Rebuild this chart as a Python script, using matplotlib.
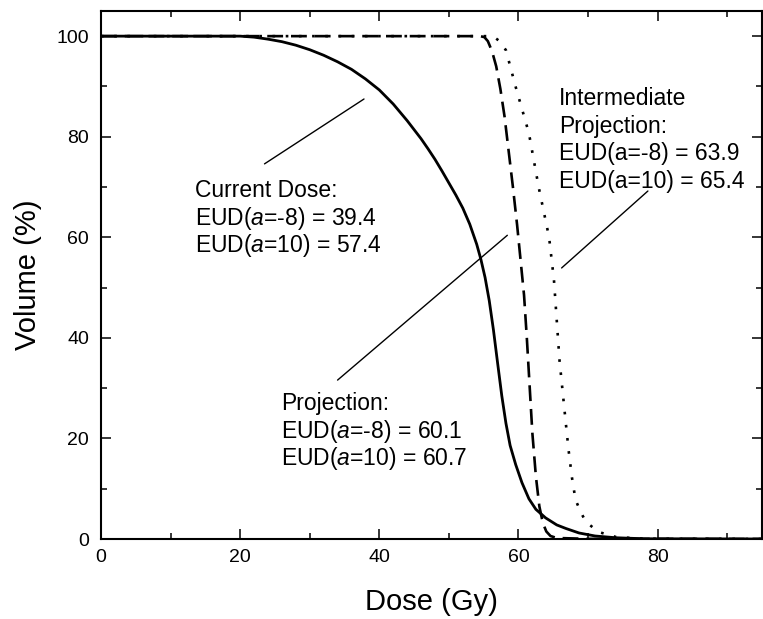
import matplotlib
matplotlib.use("Agg")
import matplotlib.pyplot as plt
from matplotlib.ticker import MultipleLocator

plt.rcParams['font.family'] = ['Liberation Sans', 'DejaVu Sans']
plt.rcParams['mathtext.fontset'] = 'custom'
plt.rcParams['mathtext.rm'] = 'Liberation Sans'
plt.rcParams['mathtext.it'] = 'Liberation Sans:italic'

# Current dose (solid)
dose_cur = [0, 20, 22, 24, 26, 28, 30, 32, 34, 36, 38, 40, 42, 44, 46, 47, 48, 49, 50,
            51, 52, 53, 54, 54.6, 55.2, 55.8, 56.4, 57.0, 57.6, 58.2, 58.8, 59.6, 60.5,
            61.5, 62.5, 63.9, 65.5, 66.8, 68.7, 71, 74, 78, 95]
vol_cur = [100, 100, 99.8, 99.4, 98.9, 98.2, 97.3, 96.2, 94.9, 93.4, 91.5, 89.3, 86.5,
           83.2, 79.6, 77.6, 75.5, 73.2, 70.8, 68.4, 65.8, 62.6, 58.6, 55.6, 52.0, 47.4,
           41.6, 35.0, 28.5, 23.0, 18.6, 14.8, 11.2, 8.0, 5.9, 4.2, 2.8, 2.1, 1.2, 0.6,
           0.25, 0.05, 0]

# Projection (dashed)
dose_proj = [0, 54.5, 55.1, 55.6, 56.2, 56.8, 57.4, 58.0, 58.6, 59.2, 59.8, 60.3, 60.8,
             61.2, 61.6, 62.0, 62.5, 63.0, 63.5, 64.0, 64.6, 65.5, 70, 95]
vol_proj = [100, 100, 99.8, 99.0, 97.0, 94.0, 89.5, 84.0, 77.0, 70.0, 62.5, 55.5, 48.5,
            40.0, 30.5, 21.0, 12.5, 6.5, 3.2, 1.5, 0.6, 0.2, 0.03, 0]

# Intermediate projection (dotted)
dose_int = [0, 56, 56.5, 57.3, 58.2, 59.6, 61.5, 62.9, 64.4, 65.1, 65.5, 65.9, 66.4,
            66.8, 67.2, 67.7, 68.2, 69.0, 69.7, 71.5, 74, 78, 95]
vol_int = [100, 100, 99.8, 99.0, 97.2, 89.9, 80.7, 70, 60, 51.5, 43.5, 35.5, 28.6,
           23.1, 17.7, 12.1, 7.8, 5.2, 3.4, 1.4, 0.4, 0.05, 0]

# Annotations: text lines with anchor (x, first baseline y), leader line (x0, y0, x1, y1)
cur_lines = ["Current Dose:", "EUD($a$=-8) = 39.4", "EUD($a$=10) = 57.4"]
proj_lines = ["Projection:", "EUD($a$=-8) = 60.1", "EUD($a$=10) = 60.7"]
int_lines = ["Intermediate", "Projection:", "EUD(a=-8) = 63.9", "EUD(a=10) = 65.4"]
cur_text_pos = (13.5, 68.0)
proj_text_pos = (25.9, 25.6)
int_text_pos = (65.8, 86.3)
cur_leader = (23.5, 74.6, 37.8, 87.5)
proj_leader = (34.0, 31.6, 58.4, 60.4)
int_leader = (66.2, 53.9, 78.6, 69.2)

fig = plt.figure(figsize=(7.63, 6.19), dpi=100)
ax = fig.add_axes([101/763, 1 - 539/619, 661/763, 528/619])

ax.plot(dose_proj, vol_proj, color='black', lw=1.9, linestyle=(0, (6, 3)))
ax.plot(dose_int, vol_int, color='black', lw=1.9, linestyle=(0, (1, 4)))
ax.plot(dose_cur, vol_cur, color='black', lw=2.0, linestyle='-')

ax.set_xlim(0, 95)
ax.set_ylim(0, 105)
ax.xaxis.set_major_locator(MultipleLocator(20))
ax.xaxis.set_minor_locator(MultipleLocator(10))
ax.yaxis.set_major_locator(MultipleLocator(20))
ax.yaxis.set_minor_locator(MultipleLocator(10))
ax.tick_params(which='both', direction='in', top=True, right=True, width=1.1,
               labeltop=False, labelright=False)
ax.tick_params(which='major', length=7.5)
ax.tick_params(which='minor', length=4)
ax.tick_params(axis='y', labelsize=14, pad=8.5)
ax.tick_params(axis='x', labelsize=14, pad=7)
for s in ax.spines.values():
    s.set_linewidth(1.5)

ax.set_xlabel("Dose (Gy)", fontsize=21)
ax.set_ylabel("Volume (%)", fontsize=21)
ax.xaxis.set_label_coords(0.5, -0.092)
ax.yaxis.set_label_coords(-0.090, 0.5)

step = 27.6 * 105 / 528  # line spacing in data units

def put_block(lines, pos):
    x, y = pos
    for i, t in enumerate(lines):
        ax.text(x, y - i * step, t, fontsize=16.5, ha='left', va='baseline')

put_block(cur_lines, cur_text_pos)
put_block(proj_lines, proj_text_pos)
put_block(int_lines, int_text_pos)

for x0, y0, x1, y1 in (cur_leader, proj_leader, int_leader):
    ax.annotate("", xy=(x1, y1), xytext=(x0, y0),
                arrowprops=dict(arrowstyle='-', lw=1.0, color='black',
                                shrinkA=0, shrinkB=0))

fig.savefig("out.png", dpi=100)
